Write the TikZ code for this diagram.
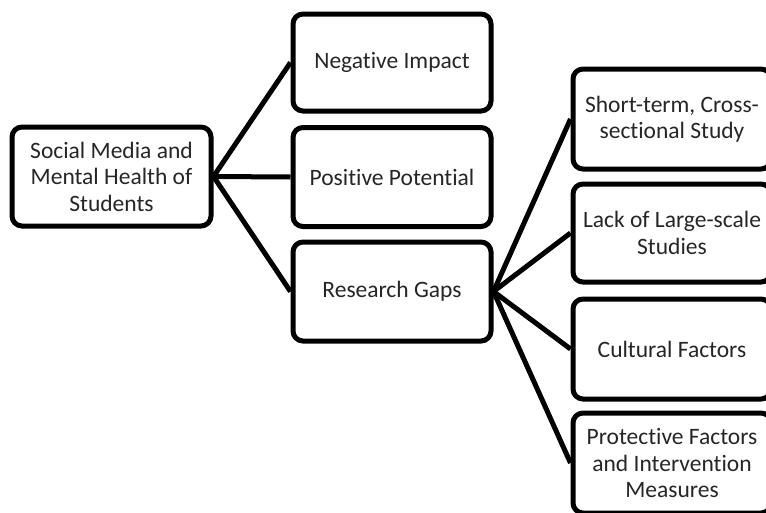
\documentclass[tikz,border=0pt]{standalone}
\usepackage{fontspec}
\setmainfont{Carlito}[Ligatures={NoCommon}]
\begin{document}
\begin{tikzpicture}[x=1pt,y=-1pt,
  box/.style={draw=black,line width=5pt,rounded corners=10pt,fill=white,
    minimum width=198pt,minimum height=97pt,align=center,inner sep=1pt,
    font=\fontsize{23.5}{26.5}\selectfont,text=black!85},
  conn/.style={line width=5pt,draw=black}]
\useasboundingbox (0,0) rectangle (766,512);
\node[box,minimum width=199pt,minimum height=99pt] (root) at (111.5,176.5) {Social Media and\\Mental Health of\\Students};
\node[box] (neg) at (392,62.5) {Negative Impact};
\node[box,minimum height=99pt] (pos) at (392,177) {Positive Potential};
\node[box,minimum height=99pt] (gaps) at (392,291.5) {Research Gaps};
\node[box,minimum height=100pt] (st) at (672,119) {Short-term, Cross-\\sectional Study};
\node[box,minimum height=98pt] (lack) at (672,233) {Lack of Large-scale\\Studies};
\node[box,minimum height=100pt] (cult) at (672,349) {Cultural Factors};
\node[box,minimum height=100pt] (prot) at (672,463) {Protective Factors\\and Intervention\\Measures};
\draw[conn] (root.east) -- (neg.west);
\draw[conn] (root.east) -- (pos.west);
\draw[conn] (root.east) -- (gaps.west);
\draw[conn] (gaps.east) -- (st.west);
\draw[conn] (gaps.east) -- (lack.west);
\draw[conn] (gaps.east) -- (cult.west);
\draw[conn] (gaps.east) -- (prot.west);
\end{tikzpicture}
\end{document}
